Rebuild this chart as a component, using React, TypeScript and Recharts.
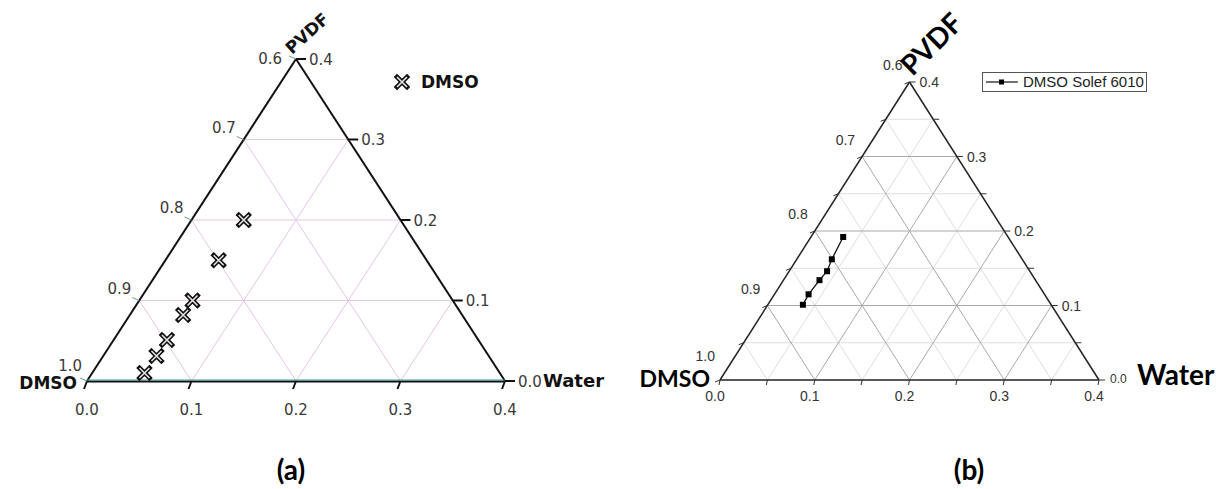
import { ScatterChart, Scatter, XAxis, YAxis, ReferenceLine, Legend } from 'recharts'

const CHART_H = 489
const SPAN = 0.4

// cloud points, mass fractions (water, PVDF); DMSO is the balance
const dmsoWater = [0.05, 0.051, 0.051, 0.051, 0.051, 0.051, 0.05]
const dmsoPvdf = [0.2, 0.15, 0.1, 0.082, 0.051, 0.031, 0.01]

const solefWater = [0.034, 0.037, 0.04, 0.038, 0.036, 0.037]
const solefPvdf = [0.192, 0.162, 0.146, 0.134, 0.115, 0.101]

// axis ticks
const waterTicks = [0, 0.1, 0.2, 0.3, 0.4]
const pvdfTicks = [0, 0.1, 0.2, 0.3, 0.4]
const dmsoTicks = [1.0, 0.9, 0.8, 0.7, 0.6]
const fineTicks = [0, 0.05, 0.1, 0.15, 0.2, 0.25, 0.3, 0.35, 0.4]
const majorGrid = [0.1, 0.2, 0.3]
const minorGrid = [0.05, 0.15, 0.25, 0.35]

const vertexNames = [
  { name: 'DMSO', water: 0, pvdf: 0 },
  { name: 'Water', water: SPAN, pvdf: 0 },
  { name: 'PVDF', water: 0, pvdf: SPAN },
]

interface Frame {
  left: number
  width: number
  ox: number
  oy: number
  sx: number
  sy: number
}

const FRAME_A: Frame = { left: 0, width: 608, ox: 87, oy: 381, sx: 418, sy: 322 }
const FRAME_B: Frame = { left: 608, width: 608, ox: 112, oy: 380, sx: 379, sy: 298 }

function toXY(water: number, pvdf: number) {
  return { x: water + pvdf / 2, y: pvdf }
}

function domains(f: Frame) {
  return {
    x: [(-f.ox / f.sx) * SPAN, ((f.width - f.ox) / f.sx) * SPAN],
    y: [(-(CHART_H - f.oy) / f.sy) * SPAN, (f.oy / f.sy) * SPAN],
  }
}

function gridSegments(vals: number[]) {
  const out: { x: number; y: number }[][] = []
  vals.forEach((c) => {
    out.push([toXY(0, c), toXY(SPAN - c, c)]) // constant PVDF
    out.push([toXY(c, 0), toXY(c, SPAN - c)]) // constant water
    out.push([toXY(c, 0), toXY(0, c)]) // constant DMSO
  })
  return out
}

const outline = [
  [toXY(0, 0), toXY(SPAN, 0)],
  [toXY(SPAN, 0), toXY(0, SPAN)],
  [toXY(0, SPAN), toXY(0, 0)],
]

const fmt = (v: number) => v.toFixed(1)
const isMajor = (v: number) => Math.round(v * 100) % 10 === 0

const bottomA = waterTicks.map((w) => ({ ...toXY(w, 0), label: fmt(w) }))
const leftA = dmsoTicks.map((d) => ({ ...toXY(0, 1 - d), label: fmt(d) }))
const rightA = pvdfTicks.map((p) => ({ ...toXY(SPAN - p, p), label: fmt(p) }))

const bottomB = fineTicks.map((w) => ({ ...toXY(w, 0), label: isMajor(w) ? fmt(w) : '' }))
const leftB = fineTicks.map((p) => ({ ...toXY(0, p), label: isMajor(p) ? fmt(1 - p) : '' }))
const rightB = fineTicks.map((p) => ({ ...toXY(SPAN - p, p), label: isMajor(p) ? fmt(p) : '', p }))

const vertexPts = vertexNames.map((v) => ({ ...toXY(v.water, v.pvdf), name: v.name }))
const dmsoPts = dmsoWater.map((w, i) => toXY(w, dmsoPvdf[i]))
const solefPts = solefWater.map((w, i) => toXY(w, solefPvdf[i]))

const NUM_A = { fontFamily: 'DejaVu Sans, Verdana, sans-serif', fontSize: 15, fill: '#3a3a3a' }
const NUM_B = { fontFamily: 'Liberation Sans, Arial, sans-serif', fontSize: 14, fill: '#333' }
const NAME_A = { fontFamily: 'DejaVu Sans, Verdana, sans-serif', fontWeight: 'bold', fontSize: 18, fill: '#111' }
const NAME_B = { fontFamily: 'Lato, Calibri, sans-serif', fontWeight: 'bold', fill: '#000' }

function CrossMark({ cx, cy }: { cx: number; cy: number }) {
  const r = 5
  return (
    <g>
      <path d={`M${cx - r},${cy - r}L${cx + r},${cy + r}M${cx - r},${cy + r}L${cx + r},${cy - r}`} stroke="#111" strokeWidth={4.6} strokeLinecap="square" />
      <path d={`M${cx - r},${cy - r}L${cx + r},${cy + r}M${cx - r},${cy + r}L${cx + r},${cy - r}`} stroke="#e4e4e4" strokeWidth={1.6} />
    </g>
  )
}

function axes(f: Frame) {
  const d = domains(f)
  return [
    <XAxis key="x" type="number" dataKey="x" domain={d.x} hide />,
    <YAxis key="y" type="number" dataKey="y" domain={d.y} hide />,
  ]
}

function lines(segs: { x: number; y: number }[][], stroke: string, width: number, prefix: string) {
  return segs.map((s, i) => (
    <ReferenceLine key={prefix + i} segment={s} stroke={stroke} strokeWidth={width} ifOverflow="visible" />
  ))
}

function PanelA() {
  return (
    <ScatterChart width={FRAME_A.width} height={CHART_H} margin={{ top: 0, right: 0, bottom: 0, left: 0 }}>
      {axes(FRAME_A)}
      {lines(gridSegments(majorGrid), '#e4c7e4', 1, 'ga')}
      {lines(outline.slice(1), '#111', 2, 'oa')}
      <ReferenceLine
        segment={outline[0]}
        ifOverflow="visible"
        shape={(p: any) => (
          <g>
            <line x1={p.x1} y1={p.y1 + 0.5} x2={p.x2} y2={p.y2 + 0.5} stroke="#111" strokeWidth={2} />
            <line x1={p.x1} y1={p.y1 - 1} x2={p.x2} y2={p.y2 - 1} stroke="#3d9a9a" strokeWidth={1} />
          </g>
        )}
      />
      <Scatter
        data={bottomA}
        isAnimationActive={false}
        legendType="none"
        shape={(p: any) => (
          <g>
            <line x1={p.cx} y1={p.cy} x2={p.cx - 3} y2={p.cy + 8} stroke="#111" strokeWidth={2} />
            <text x={p.cx} y={p.cy + 34} textAnchor="middle" {...NUM_A}>{p.payload.label}</text>
          </g>
        )}
      />
      <Scatter
        data={leftA}
        isAnimationActive={false}
        legendType="none"
        shape={(p: any) => {
          const apex = p.payload.y > SPAN - 1e-6
          const base = p.payload.y < 1e-6
          const tx = apex ? p.cx - 14 : base ? p.cx - 5 : p.cx - 8
          const ty = apex ? p.cy + 5 : base ? p.cy - 10 : p.cy - 7
          return (
            <g>
              <line x1={p.cx} y1={p.cy} x2={p.cx - 7} y2={p.cy - 3} stroke="#6f9d92" strokeWidth={1} />
              <text x={tx} y={ty} textAnchor="end" {...NUM_A}>
                {p.payload.label}
              </text>
            </g>
          )
        }}
      />
      <Scatter
        data={rightA}
        isAnimationActive={false}
        legendType="none"
        shape={(p: any) => (
          <g>
            <line x1={p.cx} y1={p.cy} x2={p.cx + 10} y2={p.cy} stroke="#111" strokeWidth={2} />
            <text x={p.cx + 13} y={p.cy + 5.5} {...NUM_A}>{p.payload.label}</text>
          </g>
        )}
      />
      <Scatter
        data={vertexPts}
        isAnimationActive={false}
        legendType="none"
        shape={(p: any) => {
          const n = p.payload.name
          if (n === 'DMSO')
            return <text x={p.cx - 10} y={p.cy + 8} textAnchor="end" {...NAME_A} fontSize={17}>{n}</text>
          if (n === 'Water')
            return <text x={p.cx + 38} y={p.cy + 6} {...NAME_A}>{n}</text>
          return (
            <text x={p.cx - 4} y={p.cy - 4} transform={`rotate(-42, ${p.cx - 4}, ${p.cy - 4})`} {...NAME_A} fontSize={17}>
              {n}
            </text>
          )
        }}
      />
      <Scatter
        name="DMSO"
        data={dmsoPts}
        isAnimationActive={false}
        shape={(p: any) => <CrossMark cx={p.cx} cy={p.cy} />}
      />
      <Legend
        layout="vertical"
        align="center"
        verticalAlign="middle"
        wrapperStyle={{ left: 392, top: 72, width: 'auto', height: 'auto' }}
        content={() => (
          <div style={{ display: 'flex', alignItems: 'center', fontFamily: 'DejaVu Sans, Verdana, sans-serif', fontWeight: 'bold', fontSize: 17, color: '#111' }}>
            <svg width={20} height={20}>
              <CrossMark cx={10} cy={10} />
            </svg>
            <span style={{ marginLeft: 9 }}>DMSO</span>
          </div>
        )}
      />
    </ScatterChart>
  )
}

function PanelB() {
  return (
    <ScatterChart width={FRAME_B.width} height={CHART_H} margin={{ top: 0, right: 0, bottom: 0, left: 0 }}>
      {axes(FRAME_B)}
      {lines(gridSegments(minorGrid), '#dedede', 1, 'gm')}
      {lines(gridSegments(majorGrid), '#a9a9a9', 1, 'gM')}
      {lines(outline, '#222', 1.5, 'ob')}
      <Scatter
        data={bottomB}
        isAnimationActive={false}
        legendType="none"
        shape={(p: any) => (
          <g>
            <line x1={p.cx} y1={p.cy} x2={p.cx - 1} y2={p.cy + 5} stroke="#333" strokeWidth={1} />
            <text x={p.cx - 5} y={p.cy + 21} textAnchor="middle" {...NUM_B}>{p.payload.label}</text>
          </g>
        )}
      />
      <Scatter
        data={leftB}
        isAnimationActive={false}
        legendType="none"
        shape={(p: any) => {
          const base = p.payload.y < 1e-6
          return (
            <g>
              <line x1={p.cx} y1={p.cy} x2={p.cx - 5} y2={p.cy + 2} stroke="#333" strokeWidth={1} />
              <text x={p.cx - (base ? 5 : 7)} y={p.cy - (base ? 19 : 12)} textAnchor="end" {...NUM_B}>
                {p.payload.label}
              </text>
            </g>
          )
        }}
      />
      <Scatter
        data={rightB}
        isAnimationActive={false}
        legendType="none"
        shape={(p: any) => {
          const base = p.payload.p === 0
          return (
            <g>
              <line x1={p.cx} y1={p.cy} x2={p.cx + 6} y2={p.cy} stroke="#333" strokeWidth={1} />
              <text x={p.cx + (base ? 11 : 10)} y={p.cy + (base ? 3 : 5)} {...NUM_B} fontSize={base ? 12 : 14}>
                {p.payload.label}
              </text>
            </g>
          )
        }}
      />
      <Scatter
        data={vertexPts}
        isAnimationActive={false}
        legendType="none"
        shape={(p: any) => {
          const n = p.payload.name
          if (n === 'DMSO')
            return <text x={p.cx - 10} y={p.cy + 7} textAnchor="end" {...NAME_B} fontSize={23}>{n}</text>
          if (n === 'Water')
            return <text x={p.cx + 38} y={p.cy + 5} {...NAME_B} fontSize={28}>{n}</text>
          return (
            <text x={p.cx + 3} y={p.cy - 5} transform={`rotate(-45, ${p.cx + 3}, ${p.cy - 5})`} {...NAME_B} fontSize={28}>
              {n}
            </text>
          )
        }}
      />
      <Scatter
        name="DMSO Solef 6010"
        data={solefPts}
        isAnimationActive={false}
        line={{ stroke: '#111', strokeWidth: 1.3 }}
        shape={(p: any) => <rect x={p.cx - 3} y={p.cy - 3} width={6} height={6} fill="#000" />}
      />
      <Legend
        layout="vertical"
        align="center"
        verticalAlign="middle"
        wrapperStyle={{ left: 374, top: 72, width: 'auto', height: 'auto' }}
        content={() => (
          <div
            style={{
              display: 'flex',
              alignItems: 'center',
              border: '1px solid #555',
              padding: '1px 2px',
              fontFamily: 'Liberation Sans, Arial, sans-serif',
              fontSize: 15,
              lineHeight: '16px',
              color: '#222',
              background: '#fff',
            }}
          >
            <svg width={34} height={14}>
              <line x1={1} y1={7} x2={33} y2={7} stroke="#111" strokeWidth={1.2} />
              <rect x={14} y={4.5} width={5} height={5} fill="#000" />
            </svg>
            <span style={{ marginLeft: 4 }}>DMSO Solef 6010</span>
          </div>
        )}
      />
    </ScatterChart>
  )
}

const caption = {
  position: 'absolute' as const,
  top: 455,
  width: 100,
  textAlign: 'center' as const,
  fontFamily: 'Lato, Calibri, sans-serif',
  fontWeight: 'bold' as const,
  fontSize: 28,
  lineHeight: '28px',
  color: '#000',
}

export default function App() {
  return (
    <div style={{ position: 'absolute', left: 0, top: 0, width: 1216, height: CHART_H, background: '#fff', overflow: 'hidden' }}>
      <div style={{ position: 'absolute', left: FRAME_A.left, top: 0 }}>
        <PanelA />
      </div>
      <div style={{ position: 'absolute', left: FRAME_B.left, top: 0 }}>
        <PanelB />
      </div>
      <div style={{ ...caption, left: 241 }}>(a)</div>
      <div style={{ ...caption, left: 919 }}>(b)</div>
    </div>
  )
}
